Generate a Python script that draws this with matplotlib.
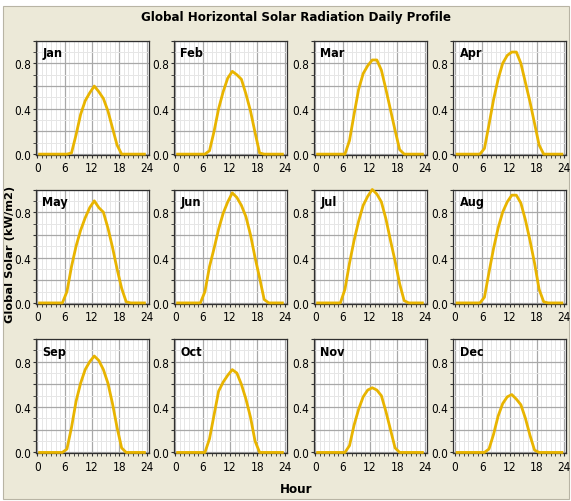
import numpy as np
import matplotlib
matplotlib.use('Agg')
import matplotlib.pyplot as plt
from matplotlib.patches import Rectangle
from matplotlib.ticker import MultipleLocator, FuncFormatter

# hourly global horizontal radiation (kW/m2), hours 0..23 plotted at mid-hour
months = ['Jan', 'Feb', 'Mar', 'Apr', 'May', 'Jun',
          'Jul', 'Aug', 'Sep', 'Oct', 'Nov', 'Dec']
jan = [0, 0, 0, 0, 0, 0, 0, 0.01, 0.17, 0.35, 0.47, 0.54, 0.60, 0.55, 0.49, 0.38, 0.23, 0.08, 0, 0, 0, 0, 0, 0]
feb = [0, 0, 0, 0, 0, 0, 0, 0.03, 0.20, 0.40, 0.55, 0.67, 0.73, 0.70, 0.66, 0.53, 0.38, 0.19, 0.01, 0, 0, 0, 0, 0]
mar = [0, 0, 0, 0, 0, 0, 0, 0.12, 0.35, 0.57, 0.71, 0.78, 0.83, 0.83, 0.74, 0.57, 0.39, 0.21, 0.04, 0, 0, 0, 0, 0]
apr = [0, 0, 0, 0, 0, 0, 0.05, 0.26, 0.48, 0.66, 0.80, 0.87, 0.90, 0.90, 0.80, 0.63, 0.46, 0.27, 0.08, 0, 0, 0, 0, 0]
may = [0, 0, 0, 0, 0, 0, 0.10, 0.32, 0.50, 0.64, 0.75, 0.84, 0.90, 0.84, 0.80, 0.66, 0.49, 0.30, 0.13, 0.01, 0, 0, 0, 0]
jun = [0, 0, 0, 0, 0, 0, 0.10, 0.32, 0.48, 0.65, 0.79, 0.89, 0.97, 0.93, 0.86, 0.76, 0.60, 0.40, 0.22, 0.03, 0, 0, 0, 0]
jul = [0, 0, 0, 0, 0, 0, 0.12, 0.35, 0.55, 0.72, 0.86, 0.94, 1.00, 0.96, 0.89, 0.74, 0.55, 0.37, 0.17, 0.02, 0, 0, 0, 0]
aug = [0, 0, 0, 0, 0, 0, 0.05, 0.27, 0.48, 0.66, 0.80, 0.89, 0.95, 0.95, 0.88, 0.73, 0.55, 0.35, 0.12, 0.01, 0, 0, 0, 0]
sep = [0, 0, 0, 0, 0, 0, 0.03, 0.22, 0.45, 0.61, 0.73, 0.80, 0.85, 0.81, 0.73, 0.61, 0.43, 0.22, 0.04, 0, 0, 0, 0, 0]
oct_ = [0, 0, 0, 0, 0, 0, 0, 0.12, 0.33, 0.54, 0.62, 0.68, 0.73, 0.70, 0.60, 0.47, 0.31, 0.10, 0, 0, 0, 0, 0, 0]
nov = [0, 0, 0, 0, 0, 0, 0, 0.06, 0.24, 0.38, 0.49, 0.55, 0.57, 0.55, 0.50, 0.36, 0.20, 0.04, 0, 0, 0, 0, 0, 0]
dec = [0, 0, 0, 0, 0, 0, 0, 0.03, 0.16, 0.32, 0.43, 0.49, 0.51, 0.47, 0.42, 0.30, 0.15, 0.02, 0, 0, 0, 0, 0, 0]
profiles = [jan, feb, mar, apr, may, jun, jul, aug, sep, oct_, nov, dec]
hours = np.arange(24) + 0.5

NARROW = ['Liberation Sans Narrow', 'DejaVu Sans']
BG = '#ECE9D8'
LINE = '#E8B400'

W, H = 571, 502
fig = plt.figure(figsize=(W / 100, H / 100), dpi=100, facecolor='white')
fig.patches.append(Rectangle((3 / W, 1 - 500 / H), 566 / W, 493 / H,
                             transform=fig.transFigure, facecolor=BG,
                             edgecolor='#B8B4A4', linewidth=0.8, zorder=-10))

col_left = [35.5, 173.5, 313.5, 453.0]
row_top = [41.7, 190.5, 340.0]
ax_w, ax_h = 113, 114

for i, (name, vals) in enumerate(zip(months, profiles)):
    r, c = divmod(i, 4)
    ax = fig.add_axes([col_left[c] / W, 1 - (row_top[r] + ax_h) / H, ax_w / W, ax_h / H])
    ax.set_facecolor('white')
    ax.plot(hours, vals, color=LINE, lw=2.0, clip_on=False, zorder=3)
    ax.set_xlim(-0.4, 24.4)
    ax.set_ylim(-0.005, 1.0)

    ax.xaxis.set_major_locator(MultipleLocator(6))
    ax.xaxis.set_minor_locator(MultipleLocator(1))
    ax.yaxis.set_major_locator(MultipleLocator(0.2))
    ax.yaxis.set_minor_locator(MultipleLocator(0.1))
    ax.yaxis.set_major_formatter(FuncFormatter(
        lambda v, p: f'{v:.1f}' if round(v * 10) % 4 == 0 and v < 0.95 else ''))

    ax.grid(which='major', color='#A8A8A8', lw=0.9, zorder=1)
    ax.grid(which='minor', color='#E6E6E6', lw=0.7, zorder=0)
    ax.set_axisbelow(True)

    ax.tick_params(which='both', direction='out', color='#303030', labelsize=8.5)
    ax.tick_params(which='major', length=2.5, width=0.8)
    ax.tick_params(which='minor', length=2, width=0.6)
    ax.tick_params(axis='y', which='major', pad=0.8)
    ax.tick_params(axis='x', which='major', pad=2.2)
    for lab in ax.get_xticklabels() + ax.get_yticklabels():
        lab.set_family(NARROW)
        lab.set_stretch('condensed')
    for s in ax.spines.values():
        s.set_color('#303030')
        s.set_linewidth(0.9)

    ax.text(0.06, 0.95, name, transform=ax.transAxes, ha='left', va='top',
            fontsize=9, fontweight='bold', family=NARROW, fontstretch='condensed')

fig.text(296 / W, 1 - 18 / H, 'Global Horizontal Solar Radiation Daily Profile',
         ha='center', va='center', fontsize=9.5, fontweight='bold', family=NARROW,
         fontstretch='condensed')
fig.text(296 / W, 1 - 490 / H, 'Hour', ha='center', va='center',
         fontsize=9.5, fontweight='bold', family=NARROW, fontstretch='condensed')
fig.text(10.5 / W, 1 - 254 / H, 'Global Solar (kW/m2)', ha='center', va='center',
         rotation=90, fontsize=8.2, fontweight='bold', family=['DejaVu Sans'])

fig.savefig('out.png', dpi=100, facecolor=fig.get_facecolor())
